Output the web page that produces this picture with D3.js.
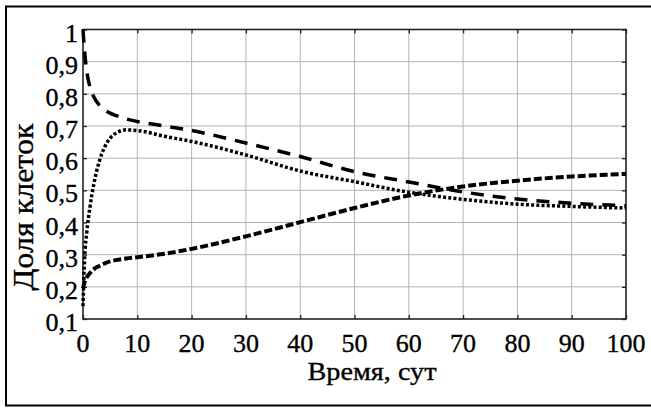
<!DOCTYPE html>
<html>
<head>
<meta charset="utf-8">
<script src="https://cdn.jsdelivr.net/npm/d3@7"></script>
<style>
  body { margin: 0; background: #fff; }
  svg text { font-family: "Liberation Serif", serif; fill: #000; stroke: #000; stroke-width: 0.35px; }
</style>
</head>
<body>
<div id="chart"></div>
<script>
// time points, days
const days = [0, 0.3, 0.7, 1.3, 2, 3, 4, 5, 6, 8, 10, 15, 20, 30, 40, 50, 60, 70, 80, 90, 100];
// three cell fractions
const seriesDashed = [1.0, 0.93, 0.87, 0.82, 0.79, 0.765, 0.75, 0.74, 0.733, 0.722, 0.714, 0.70, 0.686, 0.647, 0.605, 0.558, 0.526, 0.495, 0.473, 0.46, 0.452];
const seriesDotted = [0.14, 0.29, 0.37, 0.45, 0.52, 0.59, 0.635, 0.662, 0.677, 0.688, 0.686, 0.668, 0.652, 0.61, 0.56, 0.527, 0.494, 0.472, 0.457, 0.45, 0.445];
const seriesShort = [0.195, 0.215, 0.23, 0.243, 0.255, 0.265, 0.273, 0.279, 0.283, 0.288, 0.292, 0.303, 0.318, 0.357, 0.401, 0.445, 0.484, 0.512, 0.53, 0.543, 0.551];
const xTicks = [0, 10, 20, 30, 40, 50, 60, 70, 80, 90, 100];
const yTicks = [0.1, 0.2, 0.3, 0.4, 0.5, 0.6, 0.7, 0.8, 0.9, 1];
const xTitle = "Время, сут";
const yTitle = "Доля клеток";

const W = 651, H = 408;
const pL = 83, pT = 29.5, pR = 626, pB = 319;

const svg = d3.select("#chart").append("svg").attr("width", W).attr("height", H);

// outer frame
svg.append("rect")
  .attr("x", 6).attr("y", 6.5).attr("width", 660).attr("height", 399)
  .attr("fill", "none").attr("stroke", "#000").attr("stroke-width", 2);

const x = d3.scaleLinear().domain([0, 100]).range([pL, pR]);
const y = d3.scaleLinear().domain([0.1, 1]).range([pB, pT]);

// grid
const grid = svg.append("g").attr("stroke", "#b4b4b4").attr("stroke-width", 1);
grid.selectAll(".gx").data(xTicks.slice(1, -1)).enter().append("line")
  .attr("x1", d => x(d)).attr("x2", d => x(d)).attr("y1", pT).attr("y2", pB);
grid.selectAll(".gy").data(yTicks.slice(1, -1)).enter().append("line")
  .attr("y1", d => y(d)).attr("y2", d => y(d)).attr("x1", pL).attr("x2", pR);

// inward ticks on all four sides, no labels
function noLabels(g) {
  g.select(".domain").remove();
  g.selectAll("text").remove();
  g.selectAll("line").attr("stroke", "#222").attr("stroke-width", 1.3);
}
svg.append("g").attr("transform", `translate(0,${pB})`)
  .call(d3.axisBottom(x).tickValues(xTicks).tickSize(-4)).call(noLabels);
svg.append("g").attr("transform", `translate(0,${pT})`)
  .call(d3.axisTop(x).tickValues(xTicks).tickSize(-4)).call(noLabels);
svg.append("g").attr("transform", `translate(${pL},0)`)
  .call(d3.axisLeft(y).tickValues(yTicks).tickSize(-4)).call(noLabels);
svg.append("g").attr("transform", `translate(${pR},0)`)
  .call(d3.axisRight(y).tickValues(yTicks).tickSize(-4)).call(noLabels);

// box
svg.append("rect")
  .attr("x", pL).attr("y", pT).attr("width", pR - pL).attr("height", pB - pT)
  .attr("fill", "none").attr("stroke", "#222").attr("stroke-width", 1.6);

// tick labels
const fmt = d => d === 1 ? "1" : d.toFixed(1).replace(".", ",");
svg.append("g").selectAll("text").data(yTicks).enter().append("text")
  .attr("x", 78).attr("y", d => y(d) + 12)
  .attr("text-anchor", "end").attr("font-size", 26)
  .text(fmt);
svg.append("g").selectAll("text").data(xTicks).enter().append("text")
  .attr("x", d => x(d)).attr("y", 352)
  .attr("text-anchor", "middle").attr("font-size", 26)
  .text(d => d);

// axis titles
svg.append("text")
  .attr("x", 372).attr("y", 380).attr("text-anchor", "middle")
  .attr("font-size", 25).attr("textLength", 129).attr("lengthAdjust", "spacingAndGlyphs")
  .text(xTitle);
svg.append("text")
  .attr("transform", "translate(33,207) rotate(-90)")
  .attr("text-anchor", "middle")
  .attr("font-size", 29).attr("textLength", 167).attr("lengthAdjust", "spacingAndGlyphs")
  .text(yTitle);

// curves
const line = (vals) => d3.line()
  .x((d, i) => x(days[i]))
  .y(d => y(d))
  .curve(d3.curveMonotoneX)(vals);

const plot = svg.append("g");
plot.append("path").attr("d", line(seriesDashed))
  .attr("fill", "none").attr("stroke", "#000").attr("stroke-width", 3.5)
  .attr("stroke-dasharray", "13,9");
plot.append("path").attr("d", line(seriesDotted))
  .attr("fill", "none").attr("stroke", "#000").attr("stroke-width", 3.5)
  .attr("stroke-dasharray", "3,2.2");
plot.append("path").attr("d", line(seriesShort))
  .attr("fill", "none").attr("stroke", "#000").attr("stroke-width", 4)
  .attr("stroke-dasharray", "8,3");
</script>
</body>
</html>
